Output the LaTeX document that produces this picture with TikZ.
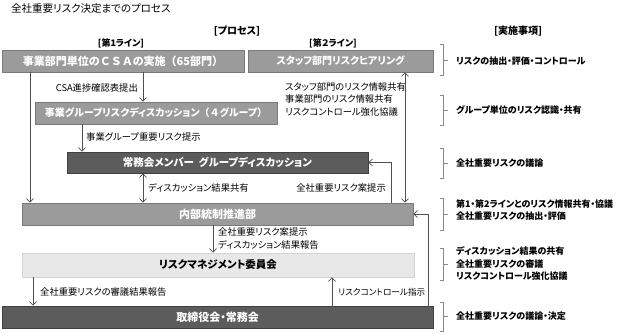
\documentclass[tikz,border=0pt]{standalone}
\usepackage{fontspec}
\setmainfont{Noto Sans CJK JP}[RawFeature=+palt]
\newfontfamily\jpfull{Noto Sans CJK JP}
\usetikzlibrary{arrows.meta}
\definecolor{midgray}{HTML}{9B9B9B}
\definecolor{midedge}{HTML}{7A7A7A}
\definecolor{darkgray}{HTML}{5C5C5C}
\definecolor{darkedge}{HTML}{404040}
\definecolor{lightgray}{HTML}{E8E8E8}
\definecolor{lightedge}{HTML}{D4D4D4}
\definecolor{linegray}{HTML}{505050}
\definecolor{brgray}{HTML}{8A8A8A}
\tikzset{
  box/.style={inner sep=0pt, align=center, line width=0.7pt},
  midbox/.style={box, fill=midgray, draw=midedge, text=white, font=\bfseries\fontsize{11}{13}\selectfont},
  darkbox/.style={box, fill=darkgray, draw=darkedge, text=white, font=\bfseries\fontsize{10.5}{13}\selectfont},
  lightbox/.style={box, fill=lightgray, draw=lightedge, text=black, font=\bfseries\fontsize{10.5}{13}\selectfont},
  arr/.style={draw=linegray, line width=0.8pt, -{Straight Barb[length=3.5pt,width=7pt]}},
  dbl/.style={draw=linegray, line width=0.8pt, {Straight Barb[length=3.5pt,width=7pt]}-{Straight Barb[length=3.5pt,width=7pt]}},
  lbl/.style={inner sep=0pt, font=\fontsize{9.3}{12.5}\selectfont, align=left},
  head/.style={inner sep=0pt, font=\bfseries\fontsize{10}{12}\selectfont},
  rtext/.style={inner sep=0pt, anchor=west, font=\bfseries\fontsize{9}{12.5}\selectfont, align=left},
  brk/.style={draw=brgray, line width=0.7pt},
}
\begin{document}
\begin{tikzpicture}[x=1pt,y=-1pt]
\useasboundingbox (0,0) rectangle (624,333);

\node[inner sep=0pt, anchor=west, font=\fontsize{10.5}{12}\selectfont] (title) at (11,9) {全社重要リスク決定までのプロセス};
\node[head] (hproc) at (237,31) {[プロセス]};
\node[head, font=\bfseries\fontsize{9}{11}\selectfont] (hl1) at (121,43) {[第1ライン]};
\node[head, font=\bfseries\fontsize{9}{11}\selectfont] (hl2) at (333,43) {[第２ライン]};
\node[head] (hact) at (518,31) {[実施事項]};

% boxes
\node[midbox, minimum width=242pt, minimum height=22pt] (B1) at (123,61) {事業部門単位の{\jpfull\bfseries ＣＳＡ}の実施{\jpfull\bfseries （}65部門{\jpfull\bfseries ）}};
\node[midbox, minimum width=185pt, minimum height=22pt, font=\bfseries\fontsize{10}{12}\selectfont] (B2) at (340.5,61) {スタッフ部門リスクヒアリング};
\node[midbox, minimum width=242pt, minimum height=22pt, font=\bfseries\fontsize{10}{12}\selectfont] (B3) at (156,113) {事業グループリスクディスカッション{\jpfull\bfseries （４}グループ{\jpfull\bfseries ）}};
\node[darkbox, minimum width=301pt, minimum height=21pt] (B4) at (217.5,162.5) {常務会メンバー\ \ グループディスカッション};
\node[midbox, minimum width=391pt, minimum height=22pt] (B5) at (217.5,214) {内部統制推進部};
\node[lightbox, minimum width=392pt, minimum height=24pt] (B6) at (218,265) {リスクマネジメント委員会};
\node[darkbox, minimum width=431pt, minimum height=22pt, font=\bfseries\fontsize{11}{13}\selectfont] (B7) at (217.5,317) {取締役会・常務会};

% connectors
\draw[arr] (B1.south -| 30,0) -- (B5.north -| 30,0);
\draw[arr] (B1.south -| 143,0) -- (B3.north -| 143,0);
\node[lbl, anchor=east] (l1) at (138,88) {CSA進捗確認表提出};
\draw[arr] (B3.south -| 82,0) -- (B4.north -| 82,0);
\node[lbl, anchor=west] (l2) at (86,137) {事業グループ重要リスク提示};
\draw[dbl] (B4.south -| 143,0) -- (B5.north -| 143,0);
\node[lbl, anchor=west] (l3) at (148,188) {ディスカッション結果共有};
\draw[arr] (B5.north -| 391,0) |- (B4.east);
\node[lbl, anchor=east] (l4) at (386,188) {全社重要リスク案提示};
\draw[dbl] (B2.south -| 405,0) -- (B5.north -| 405,0);
\node[lbl, anchor=north west] (l5) at (285,82) {スタッフ部門のリスク情報共有\\事業部門のリスク情報共有\\リスクコントロール強化協議};
\draw[arr] (B5.south -| 213,0) -- (B6.north -| 213,0);
\node[lbl, anchor=north west] (l6) at (218,227.5) {全社重要リスク案提示\\ディスカッション結果報告};
\draw[arr] (B6.south -| 33,0) -- (B7.north -| 33,0);
\node[lbl, anchor=west] (l7) at (40,292) {全社重要リスクの審議結果報告};
\draw[arr] (B7.north -| 332,0) -- (B6.south -| 332,0);
\node[lbl, anchor=west, font=\fontsize{8.6}{12}\selectfont] (l8) at (338,292) {リスクコントロール指示};
\draw[arr] (B7.north -| 428,0) |- (B5.east);

% brackets and activities
\draw[brk] (440,44) -- (443,44) -- (443,75) -- (440,75) (443,60) -- (448,60);
\node[rtext] (r1) at (456,61) {リスクの抽出・評価・コントロール};
\draw[brk] (440,95) -- (443,95) -- (443,125) -- (440,125) (443,110) -- (448,110);
\node[rtext] (r2) at (456,110) {グループ単位のリスク認識・共有};
\draw[brk] (440,148) -- (443,148) -- (443,178) -- (440,178) (443,163) -- (448,163);
\node[rtext] (r3) at (456,163) {全社重要リスクの議論};
\draw[brk] (440,198) -- (443,198) -- (443,230) -- (440,230) (443,214) -- (448,214);
\node[rtext] (r4) at (456,210) {第1・第2ラインとのリスク情報共有・協議\\全社重要リスクの抽出・評価};
\draw[brk] (440,248) -- (443,248) -- (443,280) -- (440,280) (443,264) -- (448,264);
\node[rtext] (r5) at (456,263.5) {ディスカッション結果の共有\\全社重要リスクの審議\\リスクコントロール強化協議};
\draw[brk] (440,302) -- (443,302) -- (443,331) -- (440,331) (443,316) -- (448,316);
\node[rtext] (r6) at (456,316) {全社重要リスクの議論・決定};
\end{tikzpicture}
\end{document}
